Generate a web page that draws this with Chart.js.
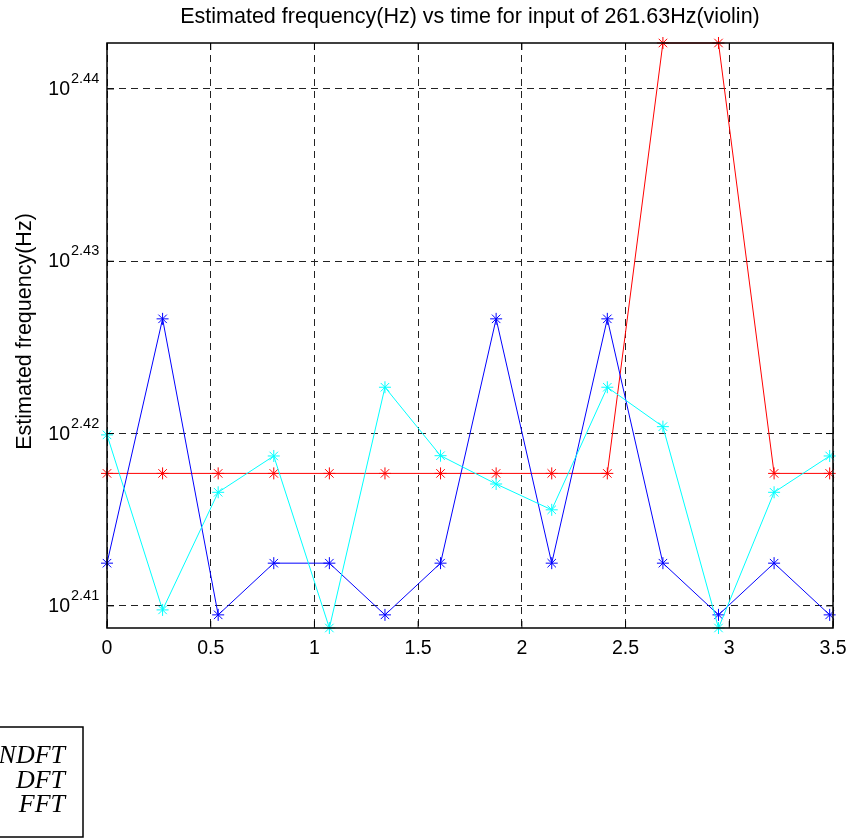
<!DOCTYPE html>
<html>
<head>
<meta charset="utf-8">
<script src="https://cdn.jsdelivr.net/npm/chart.js@4"></script>
<style>
  html, body { margin: 0; padding: 0; background: #fff; }
  canvas { display: block; }
</style>
</head>
<body>
<canvas id="chartCanvas" width="852" height="839"></canvas>
<script>
// frame start times (s)
const times = [0, 0.268, 0.536, 0.804, 1.072, 1.34, 1.608, 1.876, 2.144, 2.412, 2.68, 2.948, 3.216, 3.484];

// estimated pitch for each frame (Hz)
const ndftFreq = [261.63, 261.63, 261.63, 261.63, 261.63, 261.63, 261.63, 261.63, 261.63, 261.63, 277.12, 277.12, 261.63, 261.63];
const dftFreq = [258.51, 267.09, 256.73, 258.51, 258.51, 256.73, 258.51, 267.09, 258.51, 267.09, 258.51, 256.73, 258.51, 256.73];
const fftFreq = [262.98, 256.90, 260.97, 262.24, 256.28, 264.66, 262.25, 261.26, 260.36, 264.66, 263.27, 256.28, 260.97, 262.24];

const seriesNames = ['NDFT', 'DFT', 'FFT'];
const xTicks = [0, 0.5, 1, 1.5, 2, 2.5, 3, 3.5];
const yTickExps = [2.41, 2.42, 2.43, 2.44];

const titleText = 'Estimated frequency(Hz) vs time for input of 261.63Hz(violin)';
const yAxisText = 'Estimated frequency(Hz)';

const SANS = '"Liberation Sans", Arial, sans-serif';

function toPoints(values) {
    return values.map((v, i) => ({ x: times[i], y: v }));
}

const allFreq = ndftFreq.concat(dftFreq, fftFreq);

// matlab style box, inward ticks, power-of-ten labels and the odd legend box
const matlabAxes = {
    id: 'matlabAxes',
    afterDraw(chart) {
        const { ctx, chartArea: a, scales: { x, y } } = chart;
        ctx.save();
        ctx.setLineDash([]);
        ctx.strokeStyle = '#000';
        ctx.lineWidth = 1.5;
        ctx.strokeRect(a.left, a.top, a.right - a.left, a.bottom - a.top);

        ctx.lineWidth = 1;
        ctx.beginPath();
        xTicks.forEach(v => {
            const px = x.getPixelForValue(v);
            ctx.moveTo(px, a.bottom); ctx.lineTo(px, a.bottom - 7);
            ctx.moveTo(px, a.top); ctx.lineTo(px, a.top + 7);
        });
        yTickExps.forEach(e => {
            const py = y.getPixelForValue(Math.pow(10, e));
            ctx.moveTo(a.left, py); ctx.lineTo(a.left + 7, py);
            ctx.moveTo(a.right, py); ctx.lineTo(a.right - 7, py);
        });
        ctx.stroke();

        ctx.fillStyle = '#000';
        ctx.textBaseline = 'alphabetic';

        // x tick labels
        ctx.font = '19.5px ' + SANS;
        ctx.textAlign = 'center';
        xTicks.forEach(v => ctx.fillText(String(v), x.getPixelForValue(v), a.bottom + 26));

        // y tick labels as 10^e
        yTickExps.forEach(e => {
            const py = y.getPixelForValue(Math.pow(10, e));
            ctx.font = '19.5px ' + SANS;
            ctx.textAlign = 'right';
            ctx.fillText('10', a.left - 37, py + 6);
            ctx.font = '14.5px ' + SANS;
            ctx.textAlign = 'left';
            ctx.fillText(e.toFixed(2), a.left - 36, py - 6);
        });

        // title
        ctx.font = '21.5px ' + SANS;
        ctx.textAlign = 'center';
        ctx.fillText(titleText, (a.left + a.right) / 2, a.top - 20);

        // y axis title
        ctx.save();
        ctx.translate(31, (a.top + a.bottom) / 2 - 4);
        ctx.rotate(-Math.PI / 2);
        ctx.fillText(yAxisText, 0, 0);
        ctx.restore();

        // legend box (sits partly off the left edge)
        ctx.lineWidth = 1.5;
        ctx.strokeRect(-10, 727, 93, 110);
        ctx.font = 'italic 26px "Liberation Serif", "Times New Roman", serif';
        ctx.textAlign = 'right';
        chart.data.datasets.forEach((ds, i) => {
            ctx.fillText(ds.label, 65, 763 + i * 24.5);
        });
        ctx.restore();
    }
};

const ctx = document.getElementById('chartCanvas').getContext('2d');
const chart = new Chart(ctx, {
    type: 'line',
    data: {
        datasets: [
            { label: seriesNames[0], data: toPoints(ndftFreq), borderColor: '#ff0000', order: 3 },
            { label: seriesNames[1], data: toPoints(dftFreq), borderColor: '#0000ff', order: 2 },
            { label: seriesNames[2], data: toPoints(fftFreq), borderColor: '#00ffff', order: 1 }
        ].map(ds => Object.assign(ds, {
            backgroundColor: ds.borderColor,
            pointBorderColor: ds.borderColor,
            borderWidth: 1,
            pointStyle: 'star',
            pointRadius: 6,
            pointBorderWidth: 1,
            tension: 0,
            fill: false,
            clip: false
        }))
    },
    options: {
        responsive: false,
        animation: false,
        devicePixelRatio: 1,
        layout: { padding: { left: 107, top: 43, right: 19, bottom: 211 } },
        scales: {
            x: {
                type: 'linear',
                min: 0,
                max: 3.5,
                afterBuildTicks: s => { s.ticks = xTicks.map(v => ({ value: v })); },
                ticks: { display: false },
                grid: { color: '#222', lineWidth: 1, drawTicks: false },
                border: { display: false, dash: [7, 5] }
            },
            y: {
                type: 'logarithmic',
                min: Math.min(...allFreq),
                max: Math.max(...allFreq),
                afterBuildTicks: s => { s.ticks = yTickExps.map(e => ({ value: Math.pow(10, e) })); },
                ticks: { display: false },
                grid: { color: '#222', lineWidth: 1, drawTicks: false },
                border: { display: false, dash: [7, 5] }
            }
        },
        plugins: {
            legend: { display: false },
            tooltip: { enabled: false }
        }
    },
    plugins: [matlabAxes]
});
</script>
</body>
</html>
